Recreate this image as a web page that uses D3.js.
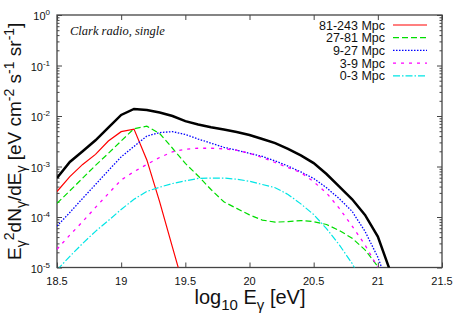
<!DOCTYPE html>
<html>
<head>
<meta charset="utf-8">
<script src="https://cdn.jsdelivr.net/npm/d3@7"></script>
<style>
  body { margin: 0; background: #fff; }
</style>
</head>
<body>
<svg class="chart" width="455" height="319" font-family="'Liberation Sans', Arial, sans-serif"></svg>
<script>
// log10 E grid (eV)
const logE = [18.5, 18.6, 18.7, 18.8, 18.9, 19.0, 19.1, 19.2, 19.3, 19.4, 19.5, 19.6, 19.7, 19.8,
  19.9, 20.0, 20.1, 20.2, 20.3, 20.4, 20.5, 20.6, 20.7, 20.8, 20.9, 21.0, 21.1];

// E^2 dN/dE values [eV cm^-2 s^-1 sr^-1]
const total = [5.9e-4, 1.23e-3, 2.0e-3, 3.3e-3, 5.9e-3, 1.05e-2, 1.38e-2, 1.32e-2, 1.17e-2, 1.0e-2,
  7.9e-3, 6.8e-3, 6.0e-3, 5.4e-3, 4.8e-3, 4.2e-3, 3.5e-3, 2.9e-3, 2.24e-3, 1.66e-3, 1.17e-3,
  7.1e-4, 4.0e-4, 2.24e-4, 1.1e-4, 4.1e-5, 8e-6];
const d81_243 = [3.2e-4, 6.3e-4, 1.1e-3, 1.74e-3, 3.2e-3, 4.9e-3, 5.5e-3, 1.35e-3, 2.0e-4, 2.5e-5, 3.2e-6];
const d27_81 = [1.86e-4, 3.3e-4, 5.9e-4, 1.05e-3, 1.82e-3, 3.2e-3, 5.6e-3, 6.3e-3, 4.5e-3, 2.3e-3,
  1.15e-3, 6.5e-4, 3.5e-4, 2.0e-4, 1.48e-4, 1.1e-4, 8.7e-5, 7.9e-5, 8.1e-5, 8.5e-5, 8.1e-5,
  7.1e-5, 5.4e-5, 3.8e-5, 2.24e-5, 1.05e-5, 3.2e-6];
const d9_27 = [6.6e-5, 1.23e-4, 2.34e-4, 4.4e-4, 8.3e-4, 1.55e-3, 2.5e-3, 4.0e-3, 4.7e-3, 4.9e-3,
  4.3e-3, 3.5e-3, 2.9e-3, 2.4e-3, 2.1e-3, 1.82e-3, 1.58e-3, 1.29e-3, 1.02e-3, 7.8e-4, 5.8e-4,
  3.8e-4, 2.3e-4, 1.29e-4, 5.2e-5, 1.6e-5, 3.2e-6];
const d3_9 = [2.3e-5, 4.4e-5, 8.1e-5, 1.55e-4, 2.9e-4, 5.4e-4, 7.9e-4, 1.1e-3, 1.51e-3, 1.95e-3,
  2.2e-3, 2.3e-3, 2.3e-3, 2.24e-3, 2.1e-3, 1.82e-3, 1.51e-3, 1.2e-3, 9.5e-4, 7.6e-4, 5.0e-4,
  3.0e-4, 1.48e-4, 6.6e-5, 2.8e-5, 1.0e-5];
const d0_3 = [8.9e-6, 1.66e-5, 3.0e-5, 5.2e-5, 8.5e-5, 1.41e-4, 2.24e-4, 3.2e-4, 3.9e-4, 4.6e-4,
  5.2e-4, 5.8e-4, 5.9e-4, 5.9e-4, 5.6e-4, 5.1e-4, 4.4e-4, 3.8e-4, 2.8e-4, 1.82e-4, 1.12e-4,
  5.9e-5, 2.8e-5, 1.2e-5, 4.0e-6];

const seriesNames = ["81-243 Mpc", "27-81 Mpc", "9-27 Mpc", "3-9 Mpc", "0-3 Mpc"];
const xTicks = [18.5, 19, 19.5, 20, 20.5, 21, 21.5];
const yTicks = [1e-5, 1e-4, 1e-3, 1e-2, 1e-1, 1];

// styles
const series = [
  {name: seriesNames[0], vals: d81_243, color: "#ff0000", dash: null, w: 1.2},
  {name: seriesNames[1], vals: d27_81, color: "#00dd00", dash: "6,3", w: 1.2},
  {name: seriesNames[2], vals: d9_27, color: "#0000ff", dash: "1.5,1.5", w: 1.3},
  {name: seriesNames[3], vals: d3_9, color: "#ff00ff", dash: "3,5", w: 1.3},
  {name: seriesNames[4], vals: d0_3, color: "#00e5e5", dash: "7,2,1.5,2", w: 1.2}
];

const svg = d3.select("svg.chart");
const m = {l: 57, r: 442, t: 15, b: 267.5};

const x = d3.scaleLinear().domain([18.5, 21.5]).range([m.l, m.r]);
const y = d3.scaleLog().domain([1e-5, 1]).range([m.b, m.t]);

svg.append("defs").append("clipPath").attr("id", "plot")
  .append("rect").attr("x", m.l).attr("y", m.t).attr("width", m.r - m.l).attr("height", m.b - m.t);

// ticks (all inward, mirrored)
const axisColor = "#444";
function styleAxis(g) {
  g.select(".domain").remove();
  g.selectAll("line").attr("stroke", axisColor).attr("stroke-width", 1);
  g.selectAll("text").remove();
}
svg.append("g").attr("transform", `translate(0,${m.b})`)
  .call(d3.axisBottom(x).tickValues(xTicks).tickSize(-5)).call(styleAxis);
svg.append("g").attr("transform", `translate(0,${m.t})`)
  .call(d3.axisTop(x).tickValues(xTicks).tickSize(-5)).call(styleAxis);

const minor = y.ticks().filter(v => yTicks.indexOf(v) < 0);
svg.append("g").attr("transform", `translate(${m.l},0)`)
  .call(d3.axisLeft(y).tickValues(yTicks).tickSize(-5)).call(styleAxis);
svg.append("g").attr("transform", `translate(${m.l},0)`)
  .call(d3.axisLeft(y).tickValues(minor).tickSize(-2.5)).call(styleAxis);
svg.append("g").attr("transform", `translate(${m.r},0)`)
  .call(d3.axisRight(y).tickValues(yTicks).tickSize(-5)).call(styleAxis);
svg.append("g").attr("transform", `translate(${m.r},0)`)
  .call(d3.axisRight(y).tickValues(minor).tickSize(-2.5)).call(styleAxis);

// frame
svg.append("rect").attr("x", m.l).attr("y", m.t).attr("width", m.r - m.l).attr("height", m.b - m.t)
  .attr("fill", "none").attr("stroke", axisColor).attr("stroke-width", 1.3);

// tick labels
svg.append("g").selectAll("text").data(xTicks).enter().append("text")
  .attr("x", d => x(d)).attr("y", 285).attr("text-anchor", "middle")
  .attr("font-size", 11).attr("fill", "#111").text(d => d);

const yl = svg.append("g").selectAll("text").data(yTicks).enter().append("text")
  .attr("x", 50).attr("y", d => y(d) + 5).attr("text-anchor", "end")
  .attr("font-size", 11).attr("fill", "#111");
yl.append("tspan").text("10");
yl.append("tspan").attr("dy", -5).attr("font-size", 8).text(d => Math.round(Math.log10(d)));

// rich text helper: segments [text, "sub"|"sup"|null]
function rich(t, segs, big, small) {
  let cur = 0;
  segs.forEach(s => {
    const target = s[1] === "sub" ? 0.3 * big : s[1] === "sup" ? -0.35 * big : 0;
    t.append("tspan").attr("dy", target - cur).attr("font-size", s[1] ? small : big).text(s[0]);
    cur = target;
  });
}

// axis titles
const xt = svg.append("text").attr("x", 250).attr("y", 304).attr("text-anchor", "middle").attr("fill", "#111");
rich(xt, [["log", null], ["10", "sub"], [" E", null], ["γ", "sub"], [" [eV]", null]], 20, 15);

const yt = svg.append("text").attr("transform", `translate(20.5,${(m.t + m.b) / 2}) rotate(-90)`)
  .attr("text-anchor", "middle").attr("fill", "#111");
rich(yt, [["E", null], ["γ", "sub"], ["2", "sup"], ["dN", null], ["γ", "sub"], ["/dE", null], ["γ", "sub"],
  [" [eV cm", null], ["-2", "sup"], [" s", null], ["-1", "sup"], [" sr", null], ["-1", "sup"], ["]", null]], 19, 14);

svg.append("text").attr("x", 70).attr("y", 35)
  .attr("font-family", "'Liberation Serif', 'Times New Roman', serif")
  .attr("font-style", "italic").attr("font-size", 12.5).attr("fill", "#111").text("Clark radio, single");

// curves
const line = vals => d3.line()
  .x((d, i) => x(logE[i]))
  .y(d => y(d))(vals);

const plot = svg.append("g").attr("clip-path", "url(#plot)");
plot.append("path").attr("d", line(total)).attr("fill", "none").attr("stroke", "#000").attr("stroke-width", 2.5);
plot.selectAll("path.s").data(series).enter().append("path").attr("class", "s")
  .attr("d", d => line(d.vals)).attr("fill", "none")
  .attr("stroke", d => d.color).attr("stroke-width", d => d.w)
  .attr("stroke-dasharray", d => d.dash);

// legend
const lg = svg.append("g").selectAll("g").data(series).enter().append("g")
  .attr("transform", (d, i) => `translate(0,${25 + i * 12.7})`);
lg.append("text").attr("x", 385).attr("y", 4.5).attr("text-anchor", "end")
  .attr("font-size", 12.5).attr("fill", "#111").text(d => d.name);
lg.append("line").attr("x1", 393).attr("x2", 427).attr("y1", 0).attr("y2", 0)
  .attr("stroke", d => d.color).attr("stroke-width", d => d.w)
  .attr("stroke-dasharray", d => d.dash);
</script>
</body>
</html>
